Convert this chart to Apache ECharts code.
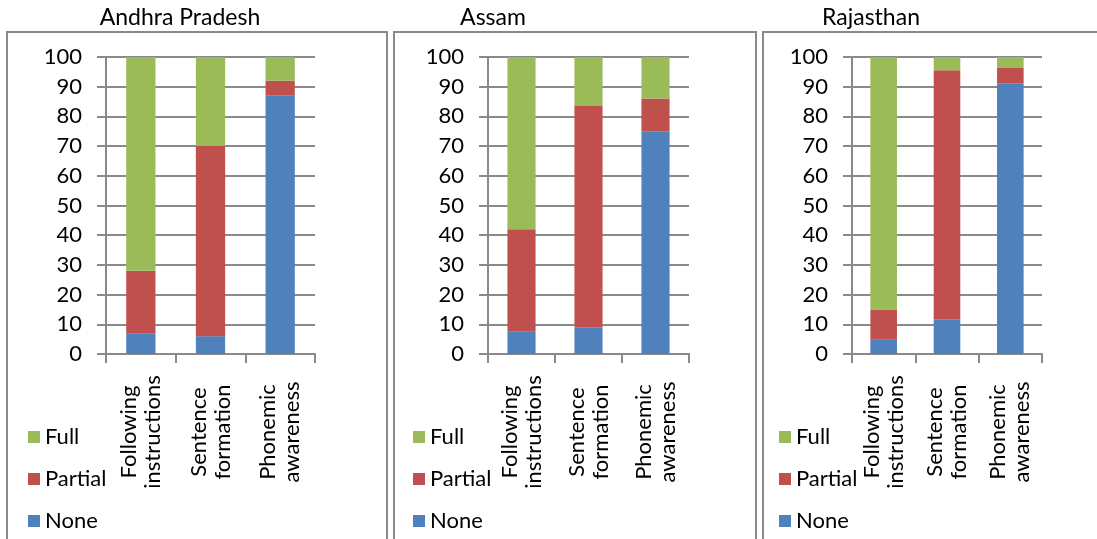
<!DOCTYPE html>
<html>
<head>
<meta charset="utf-8">
<script src="https://cdn.jsdelivr.net/npm/echarts@6/dist/echarts.min.js"></script>
<style>
  html, body { margin: 0; padding: 0; background: #fff; }
  #chart { width: 1097px; height: 539px; }
</style>
</head>
<body>
<div id="chart"></div>
<script>
// Skill levels by task, stacked to 100%, for three states
const states = ['Andhra Pradesh', 'Assam', 'Rajasthan'];
const categories = ['Following\ninstructions', 'Sentence\nformation', 'Phonemic\nawareness'];
const levels = ['None', 'Partial', 'Full'];
const legendOrder = ['Full', 'Partial', 'None'];
const yTicks = [0, 10, 20, 30, 40, 50, 60, 70, 80, 90, 100];

const noneAP = [7, 6, 87];
const partialAP = [21, 64, 5];
const fullAP = [72, 30, 8];

const noneAS = [7.5, 9, 75];
const partialAS = [34.5, 74.5, 11];
const fullAS = [58, 16.5, 14];

const noneRJ = [5, 11.5, 91];
const partialRJ = [10, 84, 5.5];
const fullRJ = [85, 4.5, 3.5];

const stateData = [
  [noneAP, partialAP, fullAP],
  [noneAS, partialAS, fullAS],
  [noneRJ, partialRJ, fullRJ]
];

const colors = { None: '#4f81bd', Partial: '#c0504d', Full: '#9bbb59' };
const FONT = 'Lato, "Open Sans", "DejaVu Sans", sans-serif';
const GRAY = '#8a8a8a';
const INK = '#000';

// Panel layout: plot area, frame and title placement
const panels = [
  { gridLeft: 106, gridWidth: 209, frameX: 7, frameW: 380, titleX: 175, legendX: 23 },
  { gridLeft: 488, gridWidth: 201, frameX: 394, frameW: 362, titleX: 488, legendX: 408 },
  { gridLeft: 852, gridWidth: 190, frameX: 763, frameW: 360, titleX: 866, legendX: 774 }
];

const grid = [], xAxis = [], yAxis = [], series = [], title = [], legend = [], graphic = [];

panels.forEach((p, i) => {
  graphic.push({
    type: 'rect',
    shape: { x: p.frameX, y: 32, width: p.frameW, height: 560 },
    style: { fill: 'none', stroke: GRAY, lineWidth: 2 },
    silent: true,
    z: 0
  });
  title.push({
    text: states[i],
    left: p.titleX,
    top: 1,
    textAlign: 'center',
    textStyle: { fontFamily: FONT, fontSize: 23, fontWeight: 'normal', color: INK }
  });
  // one legend entry per row, stacked downwards
  legendOrder.forEach((name, r) => {
    legend.push({
      left: p.legendX,
      top: 420 + r * 42,
      itemWidth: 12,
      itemHeight: 12,
      icon: 'rect',
      data: [name],
      textStyle: { fontFamily: FONT, fontSize: 22, color: INK, lineHeight: 24 }
    });
  });
  grid.push({ left: p.gridLeft, width: p.gridWidth, top: 57, height: 297 });
  xAxis.push({
    type: 'category',
    gridIndex: i,
    data: categories,
    axisLine: { lineStyle: { color: GRAY, width: 2 } },
    axisTick: { show: true, length: 9, lineStyle: { color: GRAY, width: 2 } },
    axisLabel: {
      rotate: 90,
      interval: 0,
      align: 'center',
      verticalAlign: 'middle',
      margin: 78,
      fontFamily: FONT,
      fontSize: 22,
      lineHeight: 24,
      color: INK
    }
  });
  yAxis.push({
    type: 'value',
    gridIndex: i,
    min: yTicks[0],
    max: yTicks[yTicks.length - 1],
    interval: yTicks[1] - yTicks[0],
    axisLine: { show: true, lineStyle: { color: GRAY, width: 2 } },
    axisTick: { show: true, length: 9, lineStyle: { color: GRAY, width: 2 } },
    splitLine: { show: true, lineStyle: { color: GRAY, width: 2 } },
    axisLabel: { margin: 24, fontFamily: FONT, fontSize: 22, color: INK }
  });
  levels.forEach((lvl, k) => {
    series.push({
      name: lvl,
      type: 'bar',
      stack: 'state' + i,
      xAxisIndex: i,
      yAxisIndex: i,
      barWidth: '42%',
      data: stateData[i][k],
      itemStyle: { color: colors[lvl] },
      z: 3
    });
  });
});

const chart = echarts.init(document.getElementById('chart'), null, { renderer: 'canvas' });
chart.setOption({
  animation: false,
  color: [colors.None, colors.Partial, colors.Full],
  title, legend, grid, xAxis, yAxis, series, graphic
});
</script>
</body>
</html>
